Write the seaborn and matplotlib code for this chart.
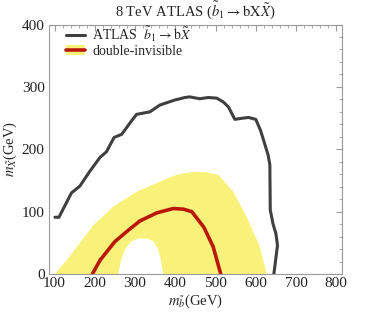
import matplotlib
matplotlib.use("Agg")
import matplotlib.pyplot as plt
import seaborn as sns
import pandas as pd
from matplotlib.patches import Patch
from matplotlib.lines import Line2D
from matplotlib.ticker import MultipleLocator

# ATLAS exclusion contour (gray)
atlas_x = [101, 111, 142, 163, 188, 213, 229, 248, 267, 293, 304, 337, 362, 399, 424, 436,
           461, 482, 503, 519, 532, 548, 569, 582, 600, 612, 623, 631, 635, 636, 643, 650, 654, 645]
atlas_y = [91, 91, 130, 141, 165, 187, 196, 219, 224, 247, 256, 260, 271, 279, 283, 284,
           281, 283, 282, 276, 268, 248, 250, 251, 248, 230, 207, 190, 175, 103, 80, 65, 46, 0]

# double-invisible central curve (red)
red_x = [194, 213, 250, 283, 312, 354, 395, 420, 441, 471, 494, 513]
red_y = [0, 22, 52, 70, 85, 98, 105, 104, 100, 75, 44, 0]

# double-invisible band (yellow): outer edge, then inner hole
band_x = [101, 130, 196, 246, 304, 362, 403, 445, 478, 507, 544, 577, 610, 627,
          370, 364, 356, 344, 329, 308, 290, 275, 265, 258]
band_y = [0, 22, 78, 108, 132, 148, 159, 164, 163, 159, 132, 92, 44, 0,
          0, 24, 42, 53, 57, 57, 52, 40, 22, 0]

sns.set_theme(style="white")
plt.rcParams['font.family'] = ['Liberation Serif', 'DejaVu Serif']
plt.rcParams['mathtext.fontset'] = 'stix'

fig = plt.figure(figsize=(3.82, 3.13), dpi=100)
ax = fig.add_axes([0.128, 0.1246, 0.767, 0.797])

yellow = '#F9F27A'
red = '#B8190B'
gray = '#3f3f3f'

ax.fill(band_x, band_y, color=yellow, lw=0, zorder=1)
sns.lineplot(x=atlas_x, y=atlas_y, sort=False, estimator=None, color=gray, lw=2.2, ax=ax, zorder=3)
sns.lineplot(x=red_x, y=red_y, sort=False, estimator=None, color=red, lw=2.6, ax=ax, zorder=2)

ax.set_xlim(86, 814)
ax.set_ylim(0, 400)
ax.xaxis.set_major_locator(MultipleLocator(100))
ax.xaxis.set_minor_locator(MultipleLocator(20))
ax.yaxis.set_major_locator(MultipleLocator(100))
ax.yaxis.set_minor_locator(MultipleLocator(20))
ax.set_xticks([100, 200, 300, 400, 500, 600, 700, 800])
ax.tick_params(which='both', direction='in', top=True, right=True, color='#9a9a9a',
               labelsize=11, labelcolor='#222222')
ax.tick_params(axis='x', pad=2)
ax.tick_params(axis='y', pad=3)
ax.tick_params(which='major', length=4, width=0.8)
ax.tick_params(which='minor', length=2, width=0.6)
for s in ax.spines.values():
    s.set_color('#9a9a9a')
    s.set_linewidth(0.8)

ax.set_title(r'8 TeV ATLAS ($\tilde{b}_1 \rightarrow \mathrm{bX}\tilde{X}$)', fontsize=10.5, pad=6)
ax.set_xlabel(r'$m_{\tilde{b}}$(GeV)', fontsize=10.5, labelpad=2)
ax.set_ylabel(r'$m_{\tilde{X}}$(GeV)', fontsize=10.5, labelpad=2)

h1 = Line2D([], [], color=gray, lw=2.2)
h2 = (Patch(facecolor=yellow, edgecolor='none'), Line2D([], [], color=red, lw=2.6))
ax.legend([h1, h2], [r'ATLAS  $\tilde{b}_1 \rightarrow \mathrm{b}\tilde{X}$', 'double-invisible'],
          loc='upper left', frameon=False, fontsize=10, handlelength=1.4,
          handletextpad=0.5, labelspacing=0.1, borderaxespad=0.2,
          bbox_to_anchor=(0.03, 1.035))

fig.savefig('out.png', dpi=100)
